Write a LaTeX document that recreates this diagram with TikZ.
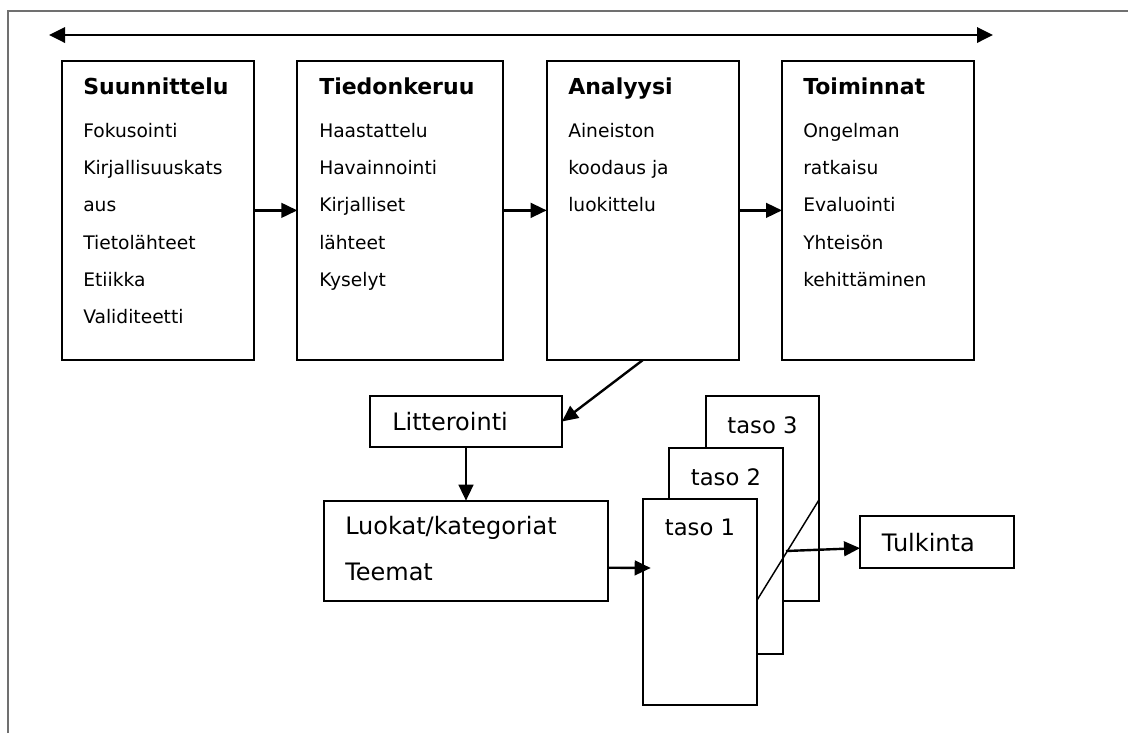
\documentclass[tikz,border=0pt]{standalone}
\usepackage{fontspec}
\setmainfont{DejaVu Sans}
\usetikzlibrary{arrows.meta,positioning}

\definecolor{framegray}{RGB}{112,112,112}
\tikzset{
    box/.style={draw, fill=white, line width=1.7pt, inner sep=0pt, outer sep=0pt, anchor=north west},
    head/.style={inner sep=0pt, anchor=base west, font=\fontsize{16.5}{20}\selectfont\bfseries},
    item/.style={inner sep=0pt, anchor=base west, font=\fontsize{14}{17}\selectfont},
    big/.style={inner sep=0pt, anchor=base west, font=\fontsize{18}{22}\selectfont},
    level/.style={inner sep=0pt, anchor=base, font=\fontsize{17}{20}\selectfont},
    link/.style={line width=1.8pt, -{Triangle[length=12pt,width=11pt]}},
}

\begin{document}
\begin{tikzpicture}[x=0.75pt, y=-0.75pt]
    \useasboundingbox (0,0) rectangle (1128,733);
    \draw[framegray, line width=1.8pt] (8,733) -- (8,11) -- (1128,11);

    % time line
    \coordinate (start) at (49,35);
    \coordinate (end) at (993,35);
    \draw[line width=1.8pt, {Triangle[length=12pt,width=11.5pt]}-{Triangle[length=12pt,width=11.5pt]}] (start) -- (end);

    % phases
    \node[box, minimum width=144pt, minimum height=224.5pt] (suun) at (62,60.7) {};
    \node[head] (suunT) at (83,94.5) {Suunnittelu};
    \foreach \t [count=\i] in {Fokusointi, Kirjallisuuskats, aus, Tietolähteet, Etiikka, Validiteetti}
        \node[item] (suun\i) at (83,100.3+37.2*\i) {\t};

    \node[box, minimum width=154pt, minimum height=224.5pt] (tied) at (297.3,60.7) {};
    \node[head] (tiedT) at (319,94.5) {Tiedonkeruu};
    \foreach \t [count=\i] in {Haastattelu, Havainnointi, Kirjalliset, lähteet, Kyselyt}
        \node[item] (tied\i) at (319,100.3+37.2*\i) {\t};

    \node[box, minimum width=144.2pt, minimum height=224.5pt] (anal) at (546.7,60.7) {};
    \node[head] (analT) at (568,94.5) {Analyysi};
    \foreach \t [count=\i] in {Aineiston, koodaus ja, luokittelu}
        \node[item] (anal\i) at (568,100.3+37.2*\i) {\t};

    \node[box, minimum width=144.2pt, minimum height=224.5pt] (toim) at (782,60.7) {};
    \node[head] (toimT) at (803,94.5) {Toiminnat};
    \foreach \t [count=\i] in {Ongelman, ratkaisu, Evaluointi, Yhteisön, kehittäminen}
        \node[item] (toim\i) at (803,100.3+37.2*\i) {\t};

    \draw[link] (suun) -- (tied);
    \draw[link] (tied) -- (anal);
    \draw[link] (anal) -- (toim);

    % analysis
    \node[box, minimum width=144pt, minimum height=38.25pt] (litt) at (370,396) {};
    \node[big] (littT) at (392,430.5) {Litterointi};
    \node[box, minimum width=213pt, minimum height=75pt] (luok) at (324,500.7) {};
    \node[big] (luokT) at (345,534) {Luokat/kategoriat};
    \node[big] (teemT) at (345,580) {Teemat};

    \node[box, minimum width=85pt, minimum height=153.5pt] (taso3) at (706,396) {};
    \node[level] (taso3T) at (762.5,433.3) {taso 3};
    \node[box, minimum width=85.5pt, minimum height=154.7pt] (taso2) at (669.3,447.7) {};
    \node[level] (taso2T) at (726,485) {taso 2};
    \node[box, minimum width=85.5pt, minimum height=154.3pt] (taso1) at (642.7,499.3) {};
    \node[level] (taso1T) at (700,535.7) {taso 1};

    \node[box, minimum width=115.7pt, minimum height=39.2pt] (tulk) at (860,516) {};
    \node[big] (tulkT) at (881.7,551.7) {Tulkinta};

    \draw[link] (anal.south) -- (litt.east);
    \draw[link] (litt) -- (luok);
    \draw[link] ([yshift=-12.75pt]luok.east) -- ([xshift=6pt]taso1.west |- 0,568);
    \draw[line width=1.1pt] (taso1.east |- taso3.south) -- (taso3.east |- taso1.north);
    \coordinate (cut) at (786,551);
    \draw[link] (cut) -- ([yshift=-4.5pt]tulk.west);
\end{tikzpicture}
\end{document}
